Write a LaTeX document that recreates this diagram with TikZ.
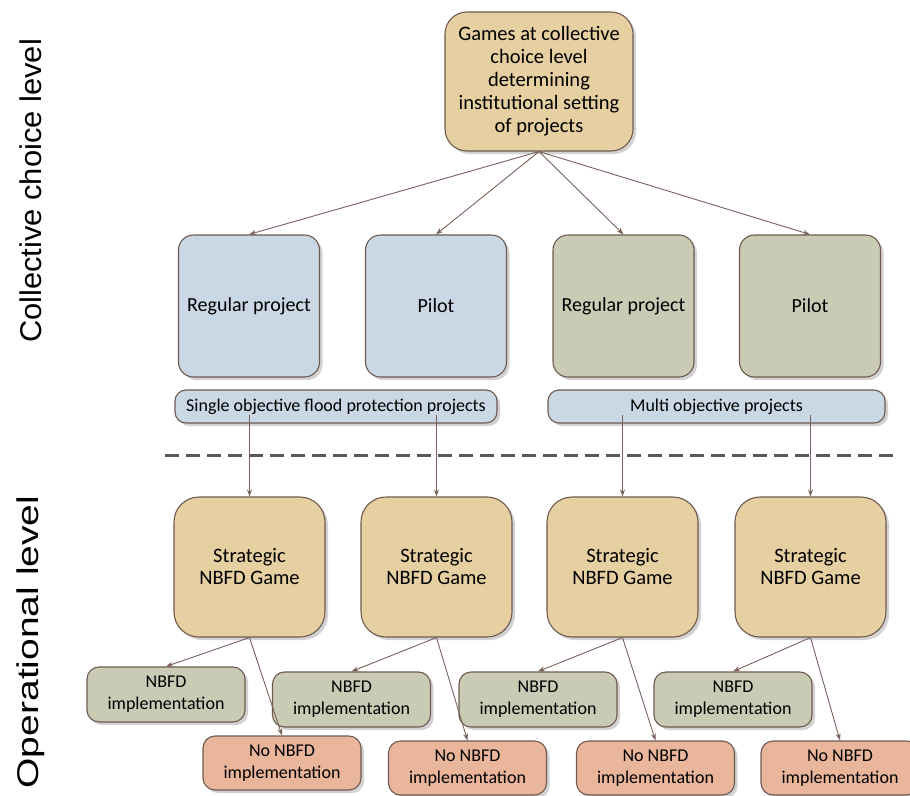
\documentclass[tikz,border=0pt]{standalone}
\usepackage{fontspec}
\setmainfont{Carlito}
\newfontfamily\labfontA[FakeStretch=1.03]{Liberation Sans}
\newfontfamily\labfontB[FakeStretch=1.30]{Liberation Sans}
\usetikzlibrary{shadows,arrows.meta}
\definecolor{tan}{HTML}{E6CFA0}
\definecolor{bluefill}{HTML}{C9D8E4}
\definecolor{greenfill}{HTML}{C9CBB4}
\definecolor{orangefill}{HTML}{E9B59B}
\definecolor{edge}{HTML}{6E5A50}
\definecolor{arrowc}{HTML}{7A6258}
\tikzset{
  boxbase/.style={draw=edge, line width=1.1pt, align=center, inner sep=2pt,
    font=\fontsize{20}{22}\selectfont,
    drop shadow={shadow xshift=3pt, shadow yshift=-3pt, fill=black!22, opacity=0.8}},
  topbox/.style={boxbase, fill=tan, rounded corners=22pt, minimum width=188pt, minimum height=139pt,
    font=\fontsize{20.5}{23}\selectfont},
  bluebox/.style={boxbase, fill=bluefill, rounded corners=15pt, minimum width=141pt, minimum height=142pt},
  greenbig/.style={boxbase, fill=greenfill, rounded corners=15pt, minimum width=141pt, minimum height=142pt},
  band/.style={boxbase, fill=bluefill, rounded corners=11pt, minimum height=33pt, font=\fontsize{18}{20}\selectfont},
  stratbox/.style={boxbase, fill=tan, rounded corners=25pt, minimum width=151pt, minimum height=140pt,
    font=\fontsize{20.5}{22}\selectfont},
  implbox/.style={boxbase, fill=greenfill, rounded corners=12pt, minimum width=158pt, minimum height=55pt,
    font=\fontsize{18}{22}\selectfont},
  noimplbox/.style={boxbase, fill=orangefill, rounded corners=12pt, minimum width=158pt, minimum height=54pt,
    font=\fontsize{18}{22}\selectfont},
  conn/.style={draw=arrowc, line width=0.9pt, -{Stealth[length=7pt,width=5pt]}},
  sidelabel/.style={rotate=90, font=\fontsize{30}{30}\selectfont}
}
\begin{document}
\begin{tikzpicture}[x=1pt,y=-1pt]
\useasboundingbox (0,0) rectangle (910,795);

\node[sidelabel] (lab1) at (31,191) {\labfontA Collective choice level};
\node[sidelabel] (lab2) at (31,642) {\labfontB Operational level};

\node[topbox] (top) at (539,81.5) {Games at collective\\choice level\\determining\\institutional setting\\of projects};

\node[bluebox] (r1) at (249,306) {Regular project};
\node[bluebox] (r2) at (436,306) {Pilot};
\node[greenbig] (r3) at (623.5,306) {Regular project};
\node[greenbig] (r4) at (810,306) {Pilot};

\node[band, minimum width=322pt] (b1) at (336,406.5) {Single objective flood protection projects};
\node[band, minimum width=337pt] (b2) at (716.5,406.5) {Multi objective projects};

\draw[dashed, dash pattern=on 14pt off 7pt, line width=2.2pt, draw=black!65] (165,455.5) -- (897,455.5);

\node[stratbox] (s1) at (249.5,567) {Strategic\\NBFD Game};
\node[stratbox] (s2) at (436.5,567) {Strategic\\NBFD Game};
\node[stratbox] (s3) at (622.5,567) {Strategic\\NBFD Game};
\node[stratbox] (s4) at (810.5,567) {Strategic\\NBFD Game};

\node[implbox] (n1) at (166,694.5) {NBFD\\implementation};
\node[implbox] (n2) at (351.5,699.5) {NBFD\\implementation};
\node[implbox] (n3) at (538,699.5) {NBFD\\implementation};
\node[implbox] (n4) at (733,699.5) {NBFD\\implementation};

\node[noimplbox] (o1) at (282,763) {No NBFD\\implementation};
\node[noimplbox] (o2) at (467.5,768) {No NBFD\\implementation};
\node[noimplbox] (o3) at (655.5,768) {No NBFD\\implementation};
\node[noimplbox] (o4) at (840,768) {No NBFD\\implementation};

\foreach \r in {r1,r2,r3,r4} \draw[conn] (top.south) -- (\r.north);

\foreach \s/\b in {s1/b1,s2/b1,s3/b2,s4/b2}
  \draw[conn] ([yshift=9pt]\s.north |- \b.south) -- (\s.north);

\foreach \s/\n/\o in {s1/n1/o1,s2/n2/o2,s3/n3/o3,s4/n4/o4} {
  \draw[conn] (\s.south) -- (\n.north);
  \draw[conn] (\s.south) -- (\o.north);
}
\end{tikzpicture}
\end{document}
